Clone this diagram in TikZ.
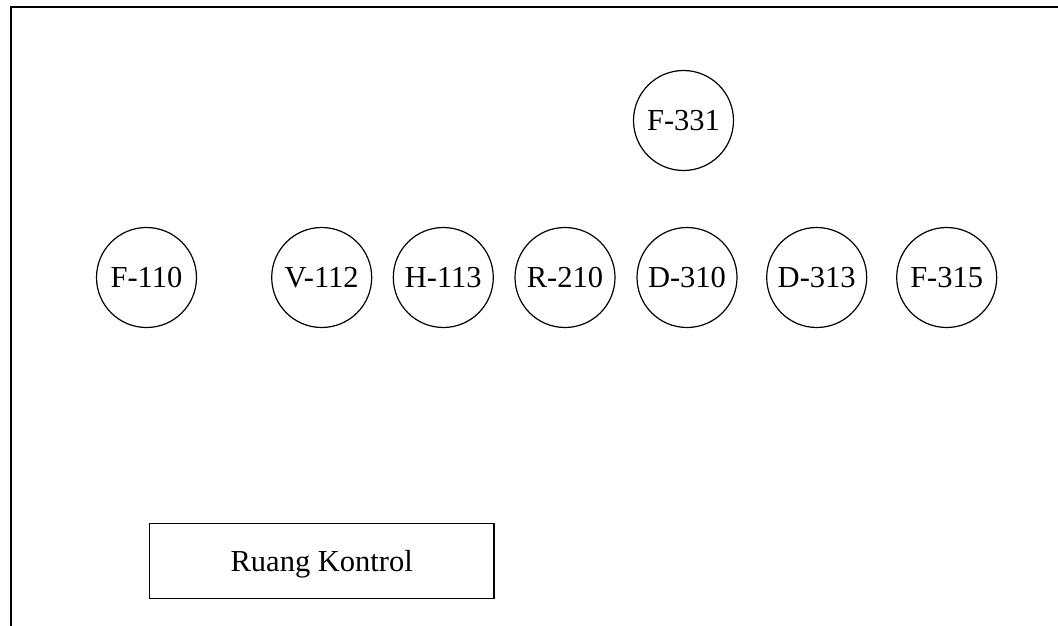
\documentclass[tikz,border=0pt]{standalone}
\usepackage{fontspec}
\setmainfont{Liberation Serif}
\begin{document}
\begin{tikzpicture}[x=1pt,y=-1pt,
  unit/.style={draw, circle, line width=1.2pt, minimum size=100pt, inner sep=0pt, font=\fontsize{30.5}{36}\selectfont},
  roombox/.style={draw, rectangle, line width=1.2pt, minimum width=344.5pt, minimum height=75pt, inner sep=0pt},
  lbl/.style={font=\fontsize{30.5}{36}\selectfont, inner sep=0pt}]
\useasboundingbox (0,0) rectangle (1058,626);
\coordinate (fb) at (11,626);
\coordinate (fc) at (11,7);
\coordinate (fr) at (1058,7);
\draw[line width=2pt] (fb) -- (fc) -- (fr);
\node[unit] (f331) at (683.5,120.5) {F-331};
\node[unit] (f110) at (146.5,277.5) {F-110};
\node[unit] (v112) at (321.7,277.5) {V-112};
\node[unit] (h113) at (443.3,277.5) {H-113};
\node[unit] (r210) at (565,277.5) {R-210};
\node[unit] (d310) at (687,277.5) {D-310};
\node[unit] (d313) at (816.7,277.5) {D-313};
\node[unit] (f315) at (946.7,277.5) {F-315};
\node[roombox] (rk) at (321.7,560.8) {};
\node[lbl, anchor=base] (rkt) at (321.7,571) {Ruang Kontrol};
\end{tikzpicture}
\end{document}
